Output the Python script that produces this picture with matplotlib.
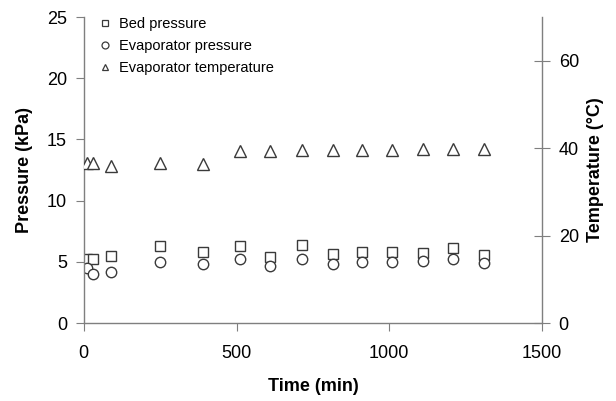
import matplotlib
matplotlib.use("Agg")
import matplotlib.pyplot as plt
from matplotlib.lines import Line2D

plt.rcParams['font.family'] = ['Liberation Sans', 'DejaVu Sans']

time_min = [10, 30, 90, 250, 390, 510, 610, 715, 815, 910, 1010, 1110, 1210, 1310]
bed_pressure = [5.2, 5.2, 5.47, 6.3, 5.83, 6.3, 5.42, 6.37, 5.64, 5.83, 5.77, 5.69, 6.1, 5.55]
evap_pressure = [4.52, 4.0, 4.14, 5.01, 4.82, 5.2, 4.66, 5.25, 4.82, 5.01, 5.01, 5.09, 5.23, 4.88]
evap_temp = [36.5, 36.5, 35.9, 36.5, 36.4, 39.4, 39.4, 39.6, 39.6, 39.6, 39.6, 39.7, 39.7, 39.7]

x_ticks = [0, 500, 1000, 1500]
p_ticks = [0, 5, 10, 15, 20, 25]
t_ticks = [0, 20, 40, 60]

edge = '#3a3a3a'
axc = '#7f7f7f'

fig = plt.figure(figsize=(6.16, 4.01), dpi=100)
ax = fig.add_axes([0.136, 0.1945, 0.744, 0.763])
ax2 = ax.twinx()

ms = 7.5
ax.plot(time_min, bed_pressure, ls='none', marker='s', ms=ms, mfc='white', mec=edge, mew=1.0)
ax.plot(time_min, evap_pressure, ls='none', marker='o', ms=ms, mfc='white', mec=edge, mew=1.0)
ax2.plot(time_min, evap_temp, ls='none', marker='^', ms=ms + 0.5, mfc='white', mec=edge, mew=1.0)

ax.set_xlim(0, 1500)
ax.set_ylim(0, 25)
ax2.set_ylim(0, 70)
ax.set_xticks(x_ticks)
ax.set_yticks(p_ticks)
ax2.set_yticks(t_ticks)

for a in (ax, ax2):
    a.spines['top'].set_visible(False)
    for s in a.spines.values():
        s.set_color(axc)
        s.set_linewidth(1.0)
ax.spines['right'].set_visible(False)
ax2.spines['left'].set_visible(False)
ax2.spines['bottom'].set_visible(False)

ax.tick_params(axis='x', direction='out', length=6, color=axc, labelsize=13, pad=10)
ax.tick_params(axis='y', direction='out', length=6, color=axc, labelsize=13, pad=6)
ax2.tick_params(axis='y', direction='inout', length=12, color=axc, labelsize=13, pad=6)

ax.set_xlabel('Time (min)', fontsize=13, fontweight='bold', labelpad=11)
ax.set_ylabel('Pressure (kPa)', fontsize=13, fontweight='bold', labelpad=10)
ax2.set_ylabel('Temperature (\u00b0C)', fontsize=13, fontweight='bold', labelpad=6)

handles = [
    Line2D([], [], ls='none', marker='s', ms=5, mfc='white', mec=edge, mew=0.9),
    Line2D([], [], ls='none', marker='o', ms=5, mfc='white', mec=edge, mew=0.9),
    Line2D([], [], ls='none', marker='^', ms=5, mfc='white', mec=edge, mew=0.9),
]
labels = ['Bed pressure', 'Evaporator pressure', 'Evaporator temperature']
ax.legend(handles, labels, loc='upper left', bbox_to_anchor=(0.02, 1.02), frameon=False,
          fontsize=10.5, handlelength=0.8, handletextpad=0.6, labelspacing=0.55, borderaxespad=0)

fig.savefig('out.png', dpi=100)
